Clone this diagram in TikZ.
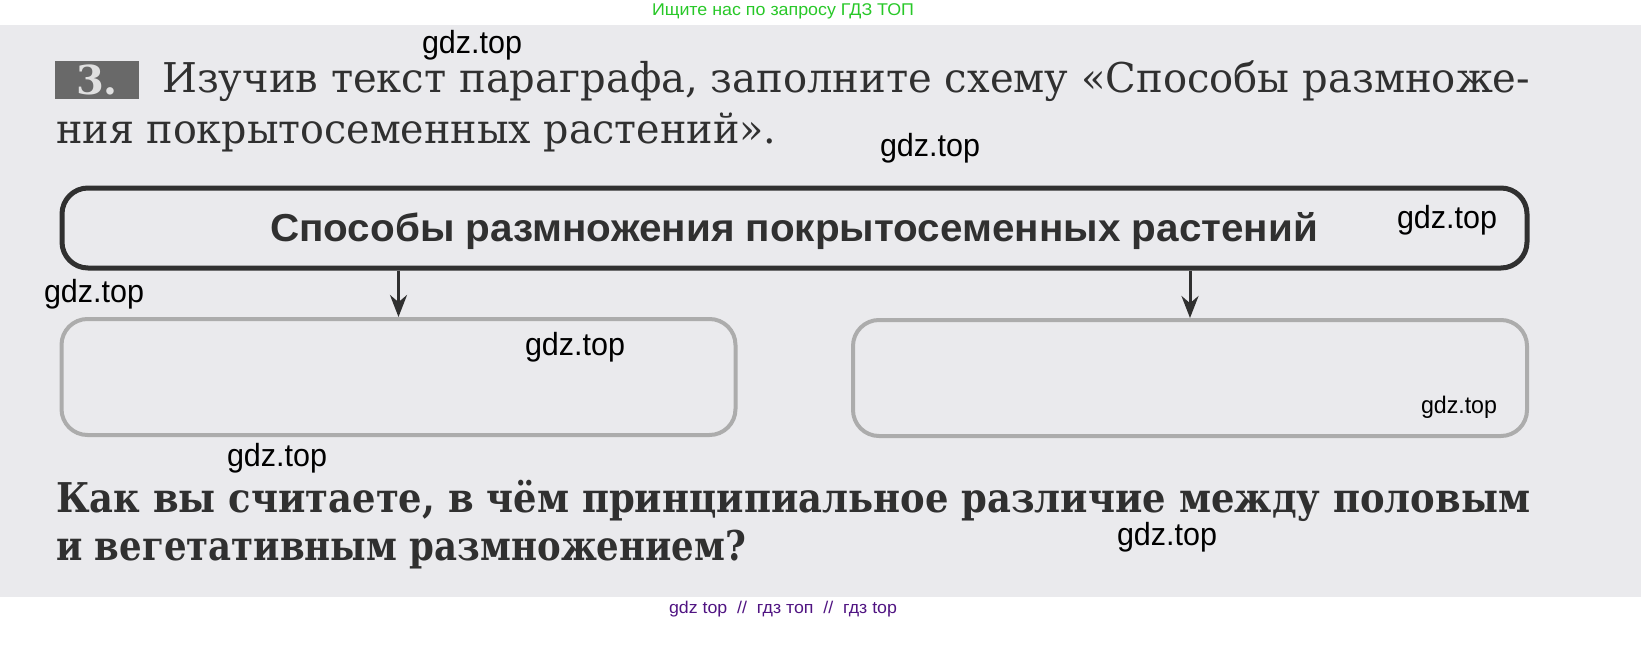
\documentclass[tikz,border=0pt]{standalone}
\usepackage{fontspec}
\usepackage{graphicx}
\setmainfont{DejaVu Serif}
\newfontfamily\wmfont{Liberation Sans}
\newfontfamily\headfont{Liberation Sans}
\newfontfamily\topfont{Liberation Sans}
\usetikzlibrary{arrows.meta}
\definecolor{paper}{RGB}{234,234,237}
\definecolor{ink}{RGB}{48,48,48}
\definecolor{lightbox}{RGB}{172,172,172}
\definecolor{badge}{RGB}{105,105,105}
\definecolor{webgreen}{RGB}{40,200,40}
\definecolor{webpurple}{RGB}{80,20,130}
\newsavebox\fitbox
\newcommand\fitw[2]{\sbox\fitbox{#2}\scalebox{\fpeval{#1/(\the\wd\fitbox)}}[1]{\usebox\fitbox}}
\tikzset{
  txt/.style={anchor=base west, inner sep=0pt, text=ink, font=\fontsize{41}{48}\selectfont},
  wm/.style={inner sep=0pt, text=black, font=\wmfont\fontsize{32}{36}\selectfont},
  headbox/.style={draw=ink, line width=5pt, rounded corners=26pt, minimum width=1465pt, minimum height=80pt, inner sep=0pt},
  emptybox/.style={draw=lightbox, line width=4pt, rounded corners=26pt, minimum width=674pt, minimum height=116pt, inner sep=0pt},
  arr/.style={draw=ink, line width=3pt, -{Stealth[length=22pt, width=17pt]}},
}
\begin{document}
\begin{tikzpicture}[x=1pt,y=-1pt]
\useasboundingbox (0,0) rectangle (1641,653);
\fill[white] (0,0) rectangle (1641,653);
\fill[paper] (0,25) rectangle (1641,597);

% top and bottom web captions
\node[inner sep=0pt, text=webgreen, font=\topfont\fontsize{17}{20}\selectfont] (cap1) at (783,11) {\fitw{262}{Ищите нас по запросу ГДЗ ТОП}};
\node[inner sep=0pt, text=webpurple, font=\topfont\fontsize{17}{20}\selectfont] (cap2) at (783,609) {\fitw{228}{gdz top\ \ //\ \ гдз топ\ \ //\ \ гдз top}};

% badge
\node[fill=badge, minimum width=84pt, minimum height=38pt, inner sep=0pt, text=white!88!black, font=\bfseries\fontsize{40}{44}\selectfont] (badge) at (97,80) {3.};

% task text
\node[txt] (t1) at (162,92) {\fitw{1368}{Изучив текст параграфа, заполните схему «Способы размноже-}};
\node[txt] (t2) at (56,143) {\fitw{720}{ния покрытосеменных растений».}};

% scheme
\node[headbox] (head) at (794.5,228) {};
\node[inner sep=0pt, text=ink, font=\headfont\bfseries\fontsize{39}{44}\selectfont, anchor=base] (headtxt) at (794,241) {\fitw{1048}{Способы размножения покрытосеменных растений}};
\node[emptybox] (lbox) at (398.5,377) {};
\node[emptybox] (rbox) at (1190,378) {};
\draw[arr] (lbox.north |- head.south) -- (lbox.north);
\draw[arr] (rbox.north |- head.south) -- (rbox.north);

% question
\node[txt, font=\bfseries\fontsize{41}{48}\selectfont] (q1) at (56,512) {\fitw{1474}{Как вы считаете, в чём принципиальное различие между половым}};
\node[txt, font=\bfseries\fontsize{41}{48}\selectfont] (q2) at (56,560) {\fitw{690}{и вегетативным размножением?}};

% watermarks
\node[wm] (w1) at (472,45) {\fitw{100}{gdz.top}};
\node[wm] (w2) at (930,148) {\fitw{100}{gdz.top}};
\node[wm] (w3) at (1447,220) {\fitw{100}{gdz.top}};
\node[wm] (w4) at (94,294) {\fitw{100}{gdz.top}};
\node[wm] (w5) at (575,347) {\fitw{100}{gdz.top}};
\node[wm, font=\wmfont\fontsize{24}{28}\selectfont] (w6) at (1459,407) {\fitw{76}{gdz.top}};
\node[wm] (w7) at (277,458) {\fitw{100}{gdz.top}};
\node[wm] (w8) at (1167,537) {\fitw{100}{gdz.top}};
\end{tikzpicture}
\end{document}
